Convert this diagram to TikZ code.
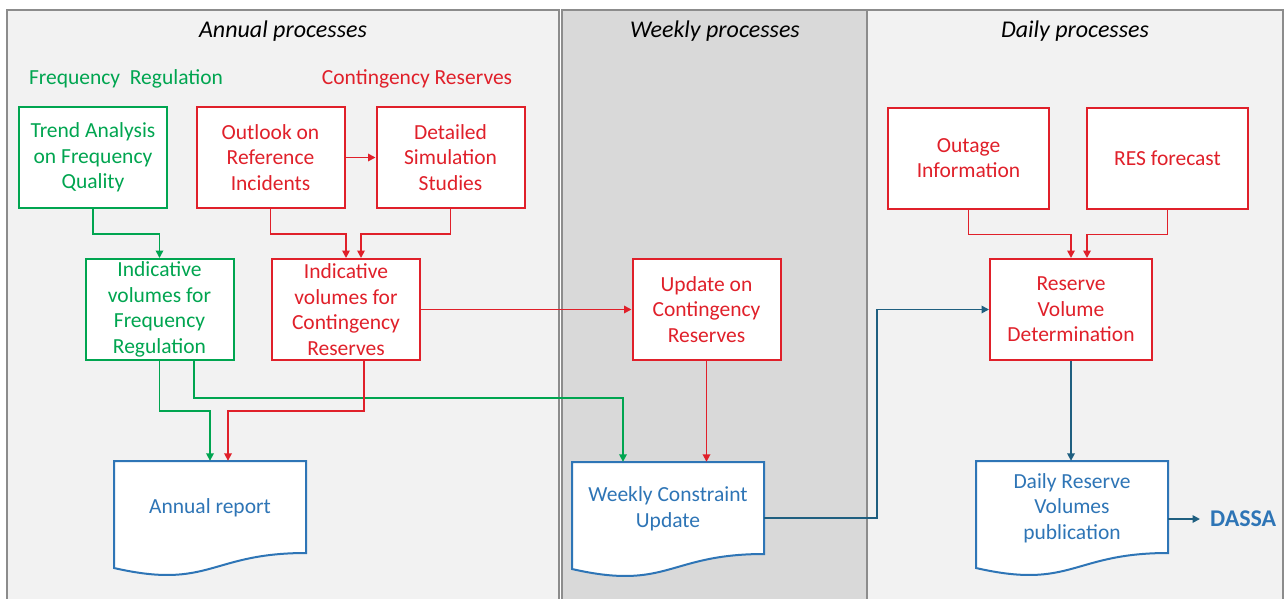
\documentclass[tikz,border=0pt]{standalone}
\usepackage{fontspec}
\setmainfont{Carlito}
\usepackage{xcolor}
\usetikzlibrary{arrows.meta,positioning,calc}
\definecolor{frgreen}{HTML}{00A550}
\definecolor{crred}{HTML}{E0202A}
\definecolor{docblue}{HTML}{2E75B6}
\definecolor{linkblue}{HTML}{1F5F80}
\definecolor{panelgray}{HTML}{F2F2F2}
\definecolor{weekgray}{HTML}{D9D9D9}
\definecolor{framegray}{HTML}{8C8C8C}
\newcommand{\boxfont}{\fontsize{21.5}{25.6}\selectfont}
\newcommand{\headfont}{\fontsize{24}{29}\selectfont\itshape}
% document symbol: outline first, then the named text node on top
\newcommand{\docnode}[3]{%
  \draw[docline] ($#2+(-96,-47)$) -- ($#2+(96,-47)$) -- ($#2+(96,45)$)
    .. controls ($#2+(0,45)$) and ($#2+(0,82)$) .. ($#2+(-96,60)$) -- cycle;
  \node[doctext] (#1) at #2 {#3};}

\begin{document}
\begin{tikzpicture}[x=1pt,y=-1pt,>=Latex,
  panel/.style={draw=framegray,line width=1.5pt},
  header/.style={font=\headfont,text=black},
  grouplabel/.style={font=\boxfont},
  frbox/.style={draw=frgreen,line width=2pt,fill=white,text=frgreen,minimum width=148pt,
    minimum height=101pt,inner sep=0pt,align=center,font=\boxfont},
  crbox/.style={frbox,draw=crred,text=crred},
  docline/.style={draw=docblue,line width=2pt,fill=white},
  doctext/.style={text=docblue,minimum width=192pt,minimum height=94pt,inner sep=0pt,
    align=center,font=\boxfont},
  frarrow/.style={-{Triangle[length=7.5pt,width=7.5pt]},line width=1.7pt,frgreen},
  crarrow/.style={frarrow,crred},
  blarrow/.style={frarrow,linkblue}]
  \useasboundingbox (0,0) rectangle (1285,598);
  % three time-scale panels
  \draw[panel,fill=panelgray] (7,10) rectangle (559,612);
  \draw[panel,fill=weekgray] (562,10) rectangle (867,612);
  \draw[panel,fill=panelgray] (867,10) rectangle (1283,612);
  \node[header] (annualhd) at (283,31) {Annual processes};
  \node[header] (weeklyhd) at (715,31) {Weekly processes};
  \node[header] (dailyhd) at (1075,31) {Daily processes};
  \node[grouplabel,text=frgreen] (frlabel) at (126,79) {Frequency\ \ Regulation};
  \node[grouplabel,text=crred] (crlabel) at (417,79) {Contingency Reserves};
  % annual boxes
  \node[frbox] (trend) at (93,157.5) {Trend Analysis\\on Frequency\\Quality};
  \node[crbox] (outlook) at (270.5,157.5) {Outlook on\\Reference\\Incidents};
  \node[crbox] (detailed) at (450.5,157.5) {Detailed\\Simulation\\Studies};
  \node[frbox] (indfr) at (159.5,309.5) {Indicative\\volumes for\\Frequency\\Regulation};
  \node[crbox] (indcr) at (346,309.5) {Indicative\\volumes for\\Contingency\\Reserves};
  % weekly and daily boxes
  \node[crbox] (updcr) at (706.5,309.5) {Update on\\Contingency\\Reserves};
  \node[crbox,minimum width=161pt] (outage) at (968.5,158) {Outage\\Information};
  \node[crbox,minimum width=161pt] (resfc) at (1167.5,158) {RES forecast};
  \node[crbox,minimum width=162pt] (rvd) at (1071,309.5) {Reserve\\Volume\\Determination};
  % documents
  \docnode{annrep}{(210,508)}{Annual report}
  \docnode{wkcon}{(668,509)}{Weekly Constraint\\Update}
  \docnode{dlyres}{(1072,508)}{Daily Reserve\\Volumes\\publication}
  \node[font=\fontsize{24}{29}\selectfont\bfseries,text=docblue,anchor=west,
    inner xsep=10pt,inner ysep=0pt] (dassa) at (1200,519) {DASSA};
  % connectors
  \draw[frarrow] (trend.south) -- ++(0,25) -| (indfr.north);
  \draw[crarrow] (outlook) -- (detailed);
  \draw[crarrow] (outlook.south) -- ++(0,25) -| (indcr.north);
  \draw[crarrow] (detailed.south) -- ++(0,25) -| ([xshift=15pt]indcr.north);
  \draw[crarrow] (indcr) -- (updcr);
  \draw[frarrow] (indfr.south) -- ++(0,50) -| (annrep.north);
  \draw[frarrow] ([xshift=34.5pt]indfr.south) -- ++(0,37) -| ([xshift=-45pt]wkcon.north);
  \draw[crarrow] ([xshift=18pt]indcr.south) -- ++(0,50) -| ([xshift=18pt]annrep.north);
  \draw[crarrow] (updcr.south) -- (updcr.south |- wkcon.north);
  \draw[crarrow] (outage.south) -- ++(0,25) -| (rvd.north);
  \draw[crarrow] (resfc.south) -- ++(0,25) -| ([xshift=16pt]rvd.north);
  \draw[blarrow] ([yshift=-9pt]wkcon.east) -- ++(113,0) |- (rvd.west);
  \draw[blarrow] (rvd.south) -- (rvd.south |- dlyres.north);
  \draw[blarrow] (dlyres.east |- dassa.west) -- (dassa.west);
\end{tikzpicture}
\end{document}
